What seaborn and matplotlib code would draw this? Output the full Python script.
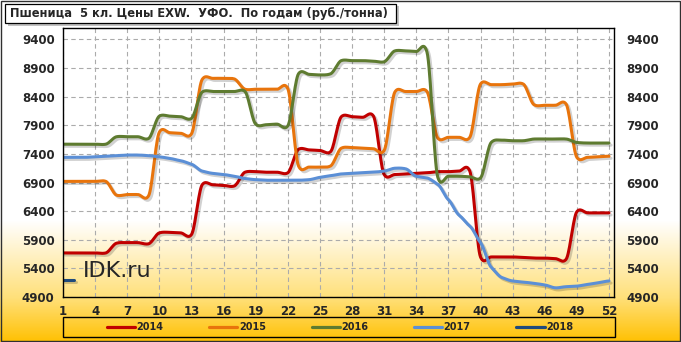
import numpy as np
import pandas as pd
import matplotlib
matplotlib.use("Agg")
import matplotlib.pyplot as plt
import seaborn as sns
from matplotlib import patheffects as pe
from matplotlib.patches import Rectangle
from matplotlib.lines import Line2D
from matplotlib.colors import to_rgb

# ---------------- data (weekly prices, rub/ton) ----------------
weeks = list(range(1, 53))
y2014 = [5670, 5670, 5670, 5670, 5670, 5840, 5850, 5850, 5830, 6020,
         6030, 6020, 5990, 6860, 6860, 6850, 6840, 7080, 7090, 7080,
         7080, 7070, 7480, 7470, 7460, 7440, 8050, 8050, 8040, 8060,
         7040, 7040, 7050, 7060, 7070, 7090, 7090, 7100, 7100, 5600,
         5600, 5600, 5600, 5590, 5580, 5580, 5570, 5560, 6390, 6370,
         6370, 6370]
y2015 = [6920, 6920, 6920, 6920, 6920, 6680, 6690, 6690, 6670, 7780,
         7770, 7760, 7750, 8700, 8720, 8720, 8710, 8530, 8530, 8530,
         8530, 8540, 7190, 7170, 7170, 7190, 7500, 7510, 7500, 7490,
         7460, 8480, 8490, 8490, 8490, 7680, 7690, 7690, 7690, 8620,
         8610, 8610, 8620, 8620, 8260, 8250, 8250, 8270, 7340, 7340,
         7350, 7360]
y2016 = [7570, 7570, 7570, 7570, 7570, 7700, 7700, 7700, 7670, 8060,
         8060, 8050, 8020, 8480, 8490, 8490, 8490, 8490, 7920, 7910,
         7920, 7890, 8800, 8790, 8780, 8800, 9030, 9030, 9030, 9020,
         9010, 9200, 9200, 9190, 9180, 7000, 7010, 7010, 7000, 6980,
         7600, 7640, 7630, 7630, 7660, 7660, 7660, 7660, 7600, 7590,
         7590, 7590]
y2017 = [7340, 7340, 7340, 7350, 7360, 7370, 7380, 7380, 7370, 7350,
         7320, 7280, 7220, 7100, 7060, 7040, 7010, 6970, 6950, 6940,
         6940, 6940, 6940, 6950, 6990, 7020, 7050, 7060, 7070, 7080,
         7100, 7150, 7140, 7010, 6980, 6870, 6600, 6330, 6140, 5850,
         5420, 5240, 5180, 5160, 5140, 5110, 5060, 5080, 5090, 5120,
         5150, 5180]
y2018 = [5200, 5200]

years = ["2014", "2015", "2016", "2017", "2018"]
series = [y2014, y2015, y2016, y2017, y2018]
colors = ["#C00000", "#E8740C", "#5E7B30", "#5B8FD6", "#1F4A7C"]
xticks = list(range(1, 53, 3))
yticks = list(range(4900, 9401, 500))
title = "Пшеница  5 кл. Цены EXW.  УФО.  По годам (руб./тонна)"


def smooth(x, y, n=16, k=0.3):
    """Excel-like smoothed line rendering (cardinal spline through the points)."""
    x = np.asarray(x, float)
    y = np.asarray(y, float)
    if len(x) < 3:
        return x, y
    m = np.empty_like(y)
    m[1:-1] = k * (y[2:] - y[:-2])
    m[0] = k * (y[1] - y[0])
    m[-1] = k * (y[-1] - y[-2])
    t = np.linspace(0, 1, n, endpoint=False)
    h00 = 2 * t**3 - 3 * t**2 + 1
    h10 = t**3 - 2 * t**2 + t
    h01 = -2 * t**3 + 3 * t**2
    h11 = t**3 - t**2
    xs, ys = [], []
    for i in range(len(x) - 1):
        xs.append(x[i] + t * (x[i + 1] - x[i]))
        ys.append(h00 * y[i] + h10 * m[i] + h01 * y[i + 1] + h11 * m[i + 1])
    xs.append([x[-1]])
    ys.append([y[-1]])
    return np.concatenate(xs), np.concatenate(ys)


rows = []
for yr, vals in zip(years, series):
    sx, sy = smooth(weeks[:len(vals)], vals)
    rows.append(pd.DataFrame({"week": sx, "price": sy, "year": yr}))
df = pd.concat(rows, ignore_index=True)

sns.set_style("white")
plt.rcParams["font.family"] = ["DejaVu Sans"]

W, H = 681, 342
fig = plt.figure(figsize=(W / 100, H / 100), dpi=100)

# background gradient (white -> yellow at the bottom)
bg = fig.add_axes([0, 0, 1, 1], zorder=-10)
rr = np.arange(H)
stops = [(0, "#FFFFFF"), (220, "#FFFFFF"), (297, "#FFE07A"), (342, "#FFC000")]
img = np.zeros((H, 1, 3))
for c in range(3):
    img[:, 0, c] = np.interp(rr, [s[0] for s in stops], [to_rgb(s[1])[c] for s in stops])
bg.imshow(img, aspect="auto", extent=[0, 1, 0, 1], origin="upper")
bg.set_axis_off()

L, R, T, B = 63, 614, 28, 297
ax = fig.add_axes([L / W, 1 - B / H, (R - L) / W, (B - T) / H])
ax.patch.set_alpha(0)

sns.lineplot(data=df, x="week", y="price", hue="year", palette=dict(zip(years, colors)),
             estimator=None, sort=False, linewidth=2.2, legend=False, ax=ax)
for ln in ax.lines:
    ln.set_solid_capstyle("round")
    ln.set_solid_joinstyle("round")
    ln.set_path_effects([pe.SimpleLineShadow(offset=(1.5, -1.5), shadow_color="black", alpha=0.18),
                         pe.Normal()])

ax.set_xlim(1, 52.47)
ax.set_ylim(4900, 9600)
ax.set_xticks(xticks)
ax.set_yticks(yticks)
ax.set_xlabel("")
ax.set_ylabel("")
ax.grid(True, color="#ABABAB", linestyle=(0, (4, 3)), linewidth=0.8)
for s in ax.spines.values():
    s.set_color("black")
    s.set_linewidth(1.0)
    s.set_visible(True)
ax.tick_params(axis="both", length=0, labelsize=8.5)
ax.tick_params(axis="y", pad=6)
ax.tick_params(axis="x", pad=6)
for lab in ax.get_xticklabels() + ax.get_yticklabels():
    lab.set_fontweight("bold")

ax2 = ax.twinx()
ax2.set_ylim(ax.get_ylim())
ax2.set_yticks(yticks)
ax2.grid(False)
ax2.tick_params(axis="y", length=0, labelsize=8.5, pad=9)
for lab in ax2.get_yticklabels():
    lab.set_fontweight("bold")
for s in ax2.spines.values():
    s.set_visible(False)

ax.text(0.036, 0.074, "IDK.ru", transform=ax.transAxes, fontsize=16, color="#262626",
        va="baseline", ha="left")

# title box
fig.patches.append(Rectangle((8 / W, 1 - 25.5 / H), 391 / W, 19 / H, transform=fig.transFigure,
                             facecolor="#9A9A9A", edgecolor="none", alpha=0.6, zorder=1))
fig.patches.append(Rectangle((5 / W, 1 - 23 / H), 391 / W, 19 / H, transform=fig.transFigure,
                             facecolor="white", edgecolor="black", linewidth=0.9, zorder=2))
fig.text(10 / W, 1 - 13.8 / H, title, fontsize=8.3, fontweight="bold", va="center", ha="left",
         zorder=3)

# legend
handles = [Line2D([0], [0], color=c, lw=2.3) for c in colors]
fig.legend(handles, years, loc="center", bbox_to_anchor=(340 / W, 1 - 327 / H), ncol=5,
           frameon=False, handlelength=2.9, handletextpad=0.15, columnspacing=4.7,
           prop={"weight": "bold", "size": 7})
fig.patches.append(Rectangle((63 / W, 1 - 337 / H), 552 / W, 20 / H, transform=fig.transFigure,
                             facecolor="none", edgecolor="black", linewidth=1.0))

# outer border
fig.patches.append(Rectangle((1 / W, 1 / H), (W - 2) / W, (H - 2) / H, transform=fig.transFigure,
                             facecolor="none", edgecolor="#303030", linewidth=1.0, zorder=0))

fig.savefig("out.png", dpi=100)
